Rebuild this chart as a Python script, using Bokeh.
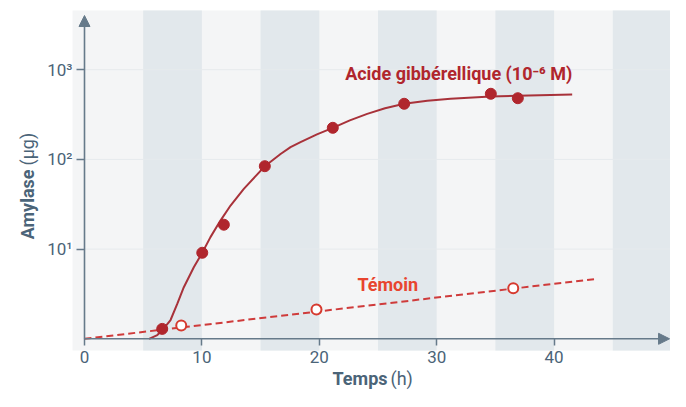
from bokeh.plotting import figure
from bokeh.models import Range1d, FixedTicker, Label, Arrow, NormalHead
from bokeh.embed import file_html
from bokeh.resources import INLINE
import math

# ---------------- data ----------------
ga_time = [6.62, 10.03, 11.87, 15.36, 21.15, 27.23, 34.61, 36.91]
ga_amylase = [1.29, 9.1, 18.7, 84, 225, 417, 539, 481]

ga_curve_time = [5.5, 6.2, 6.62, 7.33, 7.90, 8.46, 9.31, 10.03, 10.73, 11.58, 12.44,
                 13.57, 15.36, 16.70, 17.55, 18.40, 19.8, 21.15, 22.6, 24.08,
                 25.6, 27.23, 29.2, 31.18, 34.61, 36.91, 41.54]
ga_curve_amylase = [1.0, 1.1, 1.24, 1.62, 2.45, 3.76, 6.28, 9.1, 13.6, 20.8, 30.6,
                    47, 84, 115, 137, 156, 190, 225, 272, 322, 372, 417, 450,
                    474, 502, 512, 529]

ctrl_time = [8.24, 19.76, 36.52]
ctrl_amylase = [1.41, 2.12, 3.67]
ctrl_trend_time = [0, 43.67]
ctrl_trend_amylase = [1.0, 4.67]

x_ticks = [0, 10, 20, 30, 40]
x_tick_labels = ["0", "10", "20", "30", "40"]
y_ticks = [10, 100, 1000]
y_tick_labels = ["10¹", "10²", "10³"]

band_starts = [5, 15, 25, 35, 45]
band_width = 5

# ---------------- styles / layout ----------------
FONT = "Roboto"
AXIS = "#667a8a"
LABEL = "#4b6478"
DARKRED = "#b0262d"
CURVE = "#a8323a"
ORANGE = "#e8452f"
LIGHT_BG = "#f4f5f6"
DARK_BG = "#e2e8ec"
GRID = "#e6eaed"

x_lo, x_hi = -7.155, 49.915          # whole canvas is the frame
y_lo, y_hi = 10 ** -0.5875, 10 ** 3.7715
bg_x0, bg_x1 = -1.02, 50.0
bg_y0, bg_y1 = 10 ** -0.13, 10 ** 3.66

p = figure(width=670, height=391,
           x_range=Range1d(x_lo, x_hi), y_range=Range1d(y_lo, y_hi),
           y_axis_type="log", output_backend="svg", toolbar_location=None,
           min_border=0)
p.outline_line_color = None
p.background_fill_color = "white"
p.border_fill_color = "white"
p.xgrid.visible = False
p.ygrid.visible = False

# background + bands
p.quad(left=[bg_x0], right=[bg_x1], bottom=[bg_y0], top=[bg_y1],
       fill_color=LIGHT_BG, line_color=None, level="image")
p.quad(left=band_starts, right=[b + band_width for b in band_starts],
       bottom=[bg_y0] * len(band_starts), top=[bg_y1] * len(band_starts),
       fill_color=DARK_BG, line_color=None, level="image")
# horizontal guide lines at the decades
p.segment(x0=[0] * len(y_ticks), x1=[bg_x1] * len(y_ticks), y0=y_ticks,
          y1=y_ticks, line_color=GRID, line_width=1, level="underlay")

# axes drawn at the origin inside the frame
for ax in (p.xaxis, p.yaxis):
    ax.axis_line_color = None
    ax.minor_tick_line_color = None
    ax.major_tick_line_color = AXIS
    ax.major_tick_line_width = 1.5
    ax.major_tick_in = 0
    ax.major_label_text_font = FONT
    ax.major_label_text_font_size = "17px"
    ax.major_label_text_color = LABEL

p.xaxis.fixed_location = 1
p.xaxis.ticker = FixedTicker(ticks=x_ticks)
p.xaxis.major_label_overrides = {t: l for t, l in zip(x_ticks, x_tick_labels)}
p.xaxis.major_tick_out = 7
p.xaxis.major_label_standoff = 5

p.yaxis.fixed_location = 0
p.yaxis.ticker = FixedTicker(ticks=y_ticks)
p.yaxis.major_label_overrides = {t: l for t, l in zip(y_ticks, y_tick_labels)}
p.yaxis.major_tick_out = 8
p.yaxis.major_label_standoff = 4

# axis lines with arrow heads
p.add_layout(Arrow(end=NormalHead(size=11, fill_color=AXIS, line_color=AXIS),
                   x_start=0, y_start=1, x_end=0, y_end=10 ** 3.604,
                   line_color=AXIS, line_width=1.6))
p.add_layout(Arrow(end=NormalHead(size=11, fill_color=AXIS, line_color=AXIS),
                   x_start=0, y_start=1, x_end=x_hi - 0.08, y_end=1,
                   line_color=AXIS, line_width=1.6))

# series
p.line(ctrl_trend_time, ctrl_trend_amylase, line_color="#cf3b3b",
       line_width=2, line_dash="7 4")
p.line(ga_curve_time, ga_curve_amylase, line_color=CURVE, line_width=2)
p.scatter(ga_time, ga_amylase, marker="circle", size=11,
          fill_color=DARKRED, line_color=DARKRED)
p.scatter(ctrl_time, ctrl_amylase, marker="circle", size=10,
          fill_color="white", line_color="#d63a2f", line_width=2)

# in-plot labels
p.add_layout(Label(x=22.2, y=10 ** 2.958, text="Acide gibbérellique (10⁻⁶ M)",
                   text_font=FONT, text_font_size="18px", text_font_style="bold",
                   text_color=DARKRED, text_align="left",
                   text_baseline="alphabetic"))
p.add_layout(Label(x=23.25, y=10 ** 0.605, text="Témoin",
                   text_font=FONT, text_font_size="18px", text_font_style="bold",
                   text_color=ORANGE, text_align="left",
                   text_baseline="alphabetic"))

# axis titles (bold word + normal unit), screen units from frame bottom-left
def title(text, x, y, bold, align, angle=0.0):
    return Label(x=x, y=y, x_units="screen", y_units="screen", text=text,
                 text_font=FONT, text_font_size="18px",
                 text_font_style="bold" if bold else "normal",
                 text_color=LABEL, text_align=align, text_baseline="middle",
                 angle=angle)

p.add_layout(title("Temps", 387, 13, True, "right"))
p.add_layout(title("(h)", 390, 13, False, "left"))
p.add_layout(title("Amylase", 27, 222, True, "right", math.pi / 2))
p.add_layout(title("(µg)", 27, 226, False, "left", math.pi / 2))

open("out.html", "w").write(file_html(p, INLINE))
